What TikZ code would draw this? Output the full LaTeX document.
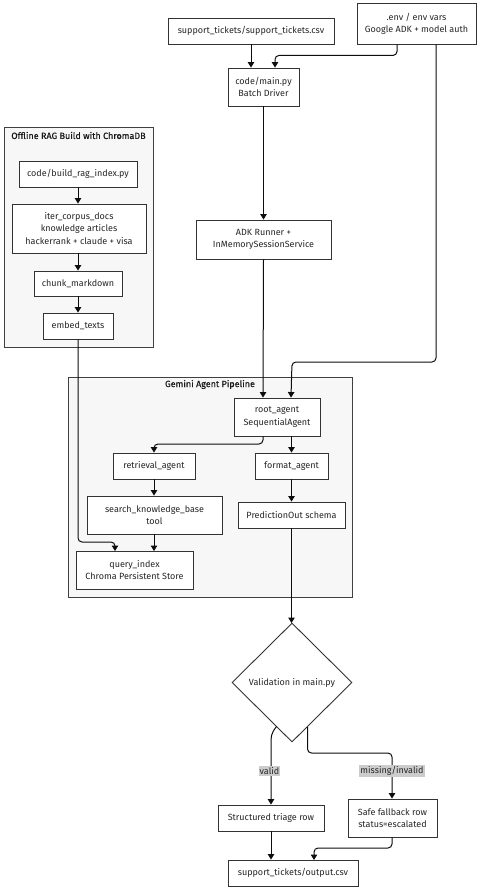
\documentclass[tikz,border=0pt]{standalone}
\usepackage{fontspec}
\setmainfont{Fira Sans}
\newfontfamily\titlefont{Fira Sans}[FakeBold=0.35]
\usetikzlibrary{shapes.geometric,arrows.meta,calc}
\begin{document}
\begin{tikzpicture}[x=1pt,y=-1pt,
  box/.style={draw=black!80,fill=white,line width=0.9pt,inner sep=0pt,align=center,
    font=\fontsize{9}{12.2}\selectfont,text=black!85},
  cluster/.style={draw=black!75,fill=black!3,line width=0.9pt},
  ctitle/.style={font=\titlefont\fontsize{9}{10}\selectfont,text=black!90,inner sep=0pt},
  conn/.style={draw=black!95,line width=1pt,rounded corners=4pt,-{Triangle[width=6.5pt,length=5.5pt]}},
  lab/.style={fill=black!20,inner sep=1pt,font=\fontsize{9}{10}\selectfont,text=black!85}]
\useasboundingbox (0,0) rectangle (480,893);
\fill[white] (0,0) rectangle (480,893);

% clusters
\draw[cluster] (4,127) rectangle (153,347);
\node[ctitle] (t1) at (78.5,135.5) {Offline RAG Build with ChromaDB};
\draw[cluster] (68,377) rectangle (352,597);
\node[ctitle] (t2) at (210,384.5) {Gemini Agent Pipeline};

% top nodes
\node[box,minimum width=166pt,minimum height=26pt] (src) at (251,31) {support\_tickets/support\_tickets.csv};
\node[box,minimum width=119pt,minimum height=41pt] (env) at (416.5,23.5) {.env / env vars\\Google ADK + model auth};
\node[box,minimum width=71pt,minimum height=38pt] (main) at (263.5,87) {code/main.py\\Batch Driver};
\node[box,minimum width=135pt,minimum height=39pt] (adk) at (263.5,239.5) {ADK Runner +\\InMemorySessionService};

% offline
\node[box,minimum width=118pt,minimum height=26pt] (build) at (78,174) {code/build\_rag\_index.py};
\node[box,minimum width=134pt,minimum height=49pt] (iter) at (79,228.5) {iter\_corpus\_docs\\knowledge articles\\hackerrank + claude + visa};
\node[box,minimum width=88pt,minimum height=25pt] (chunk) at (78,283.5) {chunk\_markdown};
\node[box,minimum width=70pt,minimum height=26pt] (embed) at (78,326) {embed\_texts};

% gemini
\node[box,minimum width=86pt,minimum height=38pt] (root) at (277,417) {root\_agent\\SequentialAgent};
\node[box,minimum width=82pt,minimum height=26pt] (retr) at (154,466) {retrieval\_agent};
\node[box,minimum width=73pt,minimum height=26pt] (fmt) at (291.5,466) {format\_agent};
\node[box,minimum width=135pt,minimum height=38pt] (search) at (154.5,515) {search\_knowledge\_base\\tool};
\node[box,minimum width=107pt,minimum height=26pt] (pred) at (291.5,515) {PredictionOut schema};
\node[box,minimum width=117pt,minimum height=38pt] (query) at (134.5,570) {query\_index\\Chroma Persistent Store};

% decision
\node[box,diamond,minimum width=120pt,minimum height=119pt] (val) at (292,682.5) {Validation in main.py};
\node[box,minimum width=106pt,minimum height=26pt] (triage) at (271,818) {Structured triage row};
\node[box,minimum width=89pt,minimum height=38pt] (safe) at (392.5,818) {Safe fallback row\\status=escalated};
\node[box,minimum width=130pt,minimum height=26pt] (out) at (293,873) {support\_tickets/output.csv};

% connectors
\draw[conn] (src.south) -- (src.south |- main.north);
\draw[conn] ([xshift=-19.5pt]env.south) -- ++(0,11) -| ([xshift=11.5pt]main.north);
\draw[conn] (main.south) -- (adk.north);
\draw[conn] ([xshift=19.5pt]env.south) |- (292,362) -- ([xshift=14pt]root.north);
\draw[conn] (adk.south) -- ([xshift=-14pt]root.north);

\draw[conn] (build.south) -- (build.south |- iter.north);
\draw[conn] (chunk.north |- iter.south) -- (chunk.north);
\draw[conn] (chunk.south) -- (embed.north);
\draw[conn] (embed.south) |- (115,542) -- (115,551);

\draw[conn] ([xshift=-14pt]root.south) |- (154,444) -- (retr.north);
\draw[conn] (fmt.north |- root.south) -- (fmt.north);
\draw[conn] (retr.south) -- (retr.south |- search.north);
\draw[conn] (fmt.south) -- (pred.north);
\draw[conn] (search.south -| 154,0) -- (154,551);
\draw[conn] (pred.south) -- (291.5,623);

\coordinate (vl) at (276.5,726.5);
\coordinate (vr) at (307.5,727);
\draw[conn,rounded corners=0pt] (vl) .. controls (271,734) .. (271,750) -- (triage.north);
\draw[conn] (vr) |- (392,753) -- (safe.north -| 392,0);
\node[lab] (lv) at (269.5,771) {valid};
\node[lab] (lm) at (392,771) {missing/invalid};

\draw[conn] (triage.south) -- (triage.south |- out.north);
\draw[conn] (safe.south -| 392,0) |- (314,848) -- (314,860);
\end{tikzpicture}
\end{document}
